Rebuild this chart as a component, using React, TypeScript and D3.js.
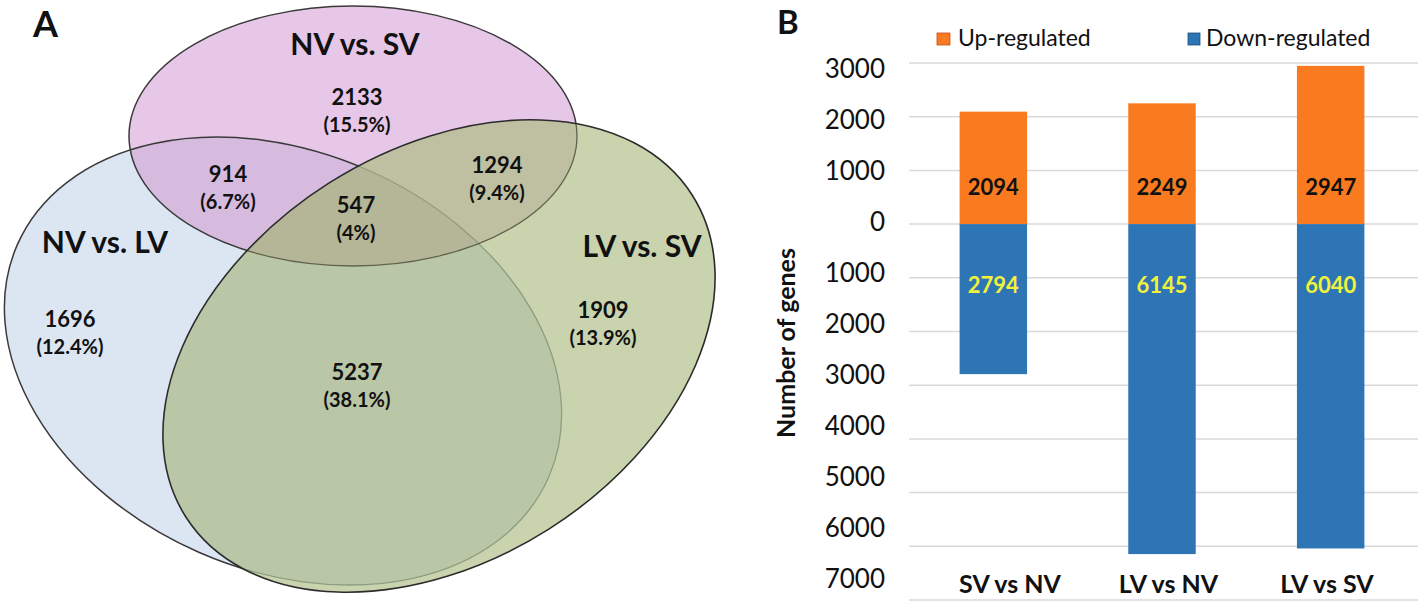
import React from "react";
import * as d3 from "d3";

// ---- Panel A data (Venn) ----
const vennSetNames = ["NV vs. SV", "NV vs. LV", "LV vs. SV"];
const vennRegionKeys = ["S", "SL", "SLV", "SV", "L", "LV", "V"];
const vennCounts = [2133, 914, 547, 1294, 1696, 5237, 1909];
const vennPercents = ["(15.5%)", "(6.7%)", "(4%)", "(9.4%)", "(12.4%)", "(38.1%)", "(13.9%)"];

// ---- Panel B data (diverging bars) ----
const comparisons = ["SV vs NV", "LV vs NV", "LV vs SV"];
const upRegulated = [2094, 2249, 2947];
const downRegulated = [2794, 6145, 6040];
const yTickValues = [3000, 2000, 1000, 0, -1000, -2000, -3000, -4000, -5000, -6000, -7000];
const legendLabels = ["Up-regulated", "Down-regulated"];

const FONT = "Lato, 'Open Sans', sans-serif";

// layout of Venn labels (positions only)
const regionPos: Record<string, [number, number]> = {
  S: [357, 105],
  SL: [228, 182],
  SLV: [356, 213],
  SV: [497, 173],
  L: [70, 327],
  LV: [357, 380],
  V: [603, 318],
};
const setLabelPos: [number, number][] = [
  [355, 55],
  [105, 253],
  [642, 257],
];

const ellipses = {
  pink: { cx: 353, cy: 136, rx: 224, ry: 130, rot: 0 },
  blue: { cx: 283, cy: 361, rx: 290, ry: 209, rot: 23.6 },
  green: { cx: 439, cy: 356, rx: 300, ry: 205, rot: -32.4 },
};

function Ell({ e, ...rest }: any) {
  return (
    <ellipse
      cx={e.cx}
      cy={e.cy}
      rx={e.rx}
      ry={e.ry}
      transform={`rotate(${e.rot} ${e.cx} ${e.cy})`}
      {...rest}
    />
  );
}

function Venn() {
  const { pink, blue, green } = ellipses;
  return (
    <g>
      <defs>
        <clipPath id="clipBlue"><Ell e={blue} /></clipPath>
        <clipPath id="clipPink"><Ell e={pink} /></clipPath>
        <clipPath id="clipGreen"><Ell e={green} /></clipPath>
        <mask id="outGreen" maskUnits="userSpaceOnUse" x={0} y={0} width={760} height={604}>
          <rect x={0} y={0} width={760} height={604} fill="white" />
          <Ell e={green} fill="black" />
        </mask>
      </defs>
      {/* fills */}
      <Ell e={blue} fill="#DCE6F3" />
      <Ell e={pink} fill="#E7C7E7" />
      <g clipPath="url(#clipBlue)"><Ell e={pink} fill="#D7BBDF" /></g>
      <Ell e={green} fill="#C9D4AE" />
      <g clipPath="url(#clipBlue)"><Ell e={green} fill="#BAC7A7" /></g>
      <g clipPath="url(#clipPink)"><Ell e={green} fill="#BFBFA1" /></g>
      <g clipPath="url(#clipPink)">
        <g clipPath="url(#clipBlue)"><Ell e={green} fill="#B5B698" /></g>
      </g>
      {/* strokes */}
      <g mask="url(#outGreen)" fill="none" strokeWidth={1.5}>
        <Ell e={blue} stroke="#3a3a3a" />
        <Ell e={pink} stroke="#3a3a3a" />
      </g>
      <g clipPath="url(#clipGreen)" fill="none" strokeWidth={1.3}>
        <Ell e={blue} stroke="#8E9C80" />
        <Ell e={pink} stroke="#62634F" />
      </g>
      <Ell e={green} fill="none" stroke="#2c2c2c" strokeWidth={1.6} />

      {/* labels */}
      <text x={33} y={37} fontFamily={FONT} fontWeight={700} fontSize={36} fill="#111">A</text>
      {vennSetNames.map((n, i) => (
        <text key={n} x={setLabelPos[i][0]} y={setLabelPos[i][1]} textAnchor="middle"
          fontFamily={FONT} fontWeight={700} fontSize={30} fill="#111">{n}</text>
      ))}
      {vennRegionKeys.map((k, i) => (
        <g key={k} fontFamily={FONT} fontWeight={700} fill="#111" textAnchor="middle">
          <text x={regionPos[k][0]} y={regionPos[k][1]} fontSize={22}>{vennCounts[i]}</text>
          <text x={regionPos[k][0]} y={regionPos[k][1] + 27} fontSize={20}>{vennPercents[i]}</text>
        </g>
      ))}
    </g>
  );
}

function Bars() {
  const y = d3.scaleLinear().domain([3000, -7000]).range([63, 600]);
  const yLab = d3.scaleLinear().domain([3000, -7000]).range([69, 579]);
  const x = d3
    .scaleBand<string>()
    .domain(comparisons)
    .range([909, 1415])
    .paddingInner(0.6)
    .paddingOuter(0.3);
  const xLab = d3.scalePoint<string>().domain(comparisons).range([1010, 1327]);
  const bw = x.bandwidth();
  const orange = "#FA7A1F";
  const blue = "#2E75B6";
  return (
    <g>
      <text x={777} y={34} fontFamily={FONT} fontWeight={700} fontSize={33} fill="#111">B</text>
      {/* gridlines */}
      {yTickValues.map((t) => (
        <line key={t} x1={909} x2={1418} y1={y(t)} y2={y(t)} stroke="#D9D9D9" strokeWidth={1.5} />
      ))}
      {/* tick labels */}
      {yTickValues.map((t) => (
        <text key={"l" + t} x={885} y={yLab(t)} dy="0.36em" textAnchor="end"
          fontFamily={FONT} fontSize={26} fill="#111">{Math.abs(t)}</text>
      ))}
      <text transform={`translate(795,343) rotate(-90)`} textAnchor="middle"
        fontFamily={FONT} fontWeight={700} fontSize={25} fill="#111">Number of genes</text>
      {/* bars */}
      {comparisons.map((c, i) => (
        <g key={c}>
          <rect x={x(c)} y={y(upRegulated[i])} width={bw} height={y(0) - y(upRegulated[i])} fill={orange} />
          <rect x={x(c)} y={y(0)} width={bw} height={y(-downRegulated[i]) - y(0)} fill={blue} />
          <text x={(x(c) as number) + bw / 2} y={195} textAnchor="middle" fontFamily={FONT}
            fontWeight={700} fontSize={22} fill="#111">{upRegulated[i]}</text>
          <text x={(x(c) as number) + bw / 2} y={293} textAnchor="middle" fontFamily={FONT}
            fontWeight={700} fontSize={22} fill="#F2F23A">{downRegulated[i]}</text>
          <text x={xLab(c)} y={593} textAnchor="middle" fontFamily={FONT}
            fontWeight={700} fontSize={25} fill="#111">{c}</text>
        </g>
      ))}
      {/* legend */}
      <rect x={937} y={33} width={13} height={12} fill={orange} stroke="#C0501A" strokeWidth={0.8} />
      <text x={958} y={46} fontFamily={FONT} fontSize={23} fill="#111">{legendLabels[0]}</text>
      <rect x={1188} y={33} width={12} height={12} fill={blue} stroke="#1F4E79" strokeWidth={0.8} />
      <text x={1206} y={46} fontFamily={FONT} fontSize={23} fill="#111">{legendLabels[1]}</text>
    </g>
  );
}

export default function App() {
  return (
    <svg width={1418} height={604} style={{ position: "absolute", left: 0, top: 0, background: "#fff" }}>
      <rect width={1418} height={604} fill="#fff" />
      <Venn />
      <Bars />
    </svg>
  );
}
